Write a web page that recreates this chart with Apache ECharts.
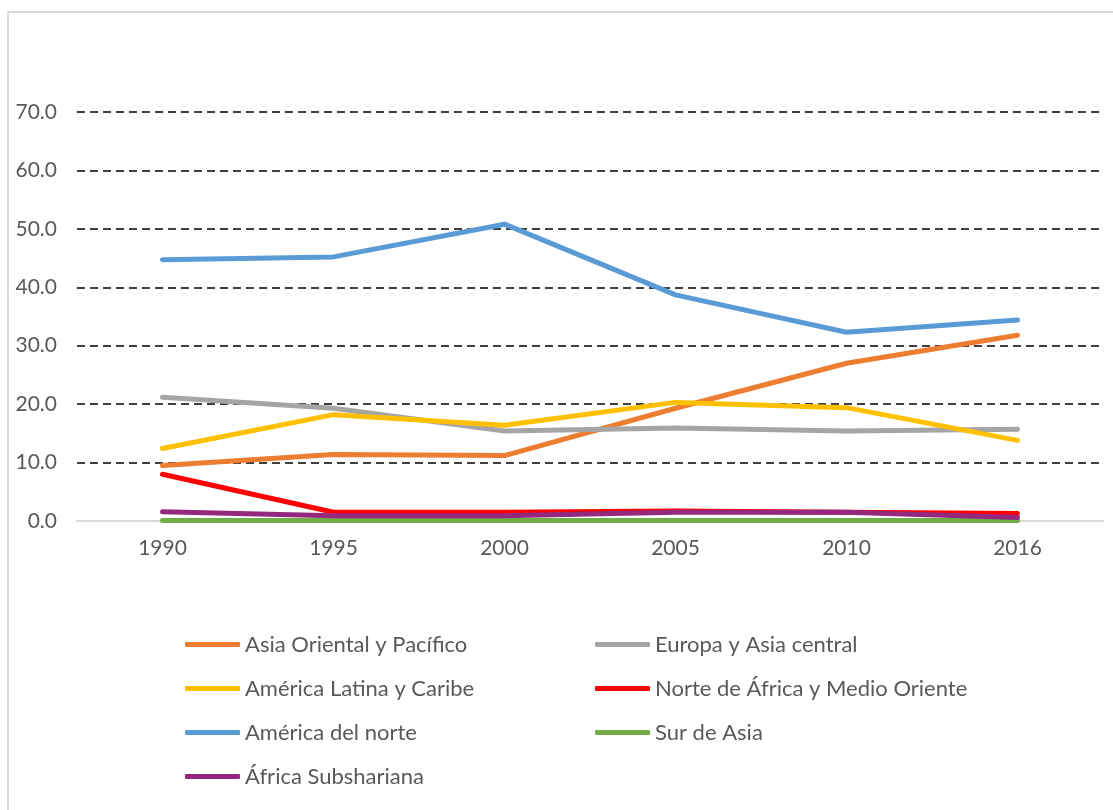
<!DOCTYPE html>
<html>
<head>
<meta charset="utf-8">
<title>Regiones 1990-2016</title>
<script src="https://cdn.jsdelivr.net/npm/echarts@6/dist/echarts.min.js"></script>
<style>
  html, body { margin: 0; padding: 0; background: #fff; }
  #chart { width: 1113px; height: 810px; }
</style>
</head>
<body>
<div id="chart"></div>
<script>
const years = ['1990', '1995', '2000', '2005', '2010', '2016']

const asiaOriental = [9.5, 11.4, 11.2, 19.3, 27.0, 31.8]
const europaAsiaCentral = [21.2, 19.3, 15.4, 15.9, 15.4, 15.7]
const americaLatina = [12.4, 18.2, 16.4, 20.3, 19.4, 13.8]
const norteAfrica = [8.0, 1.5, 1.5, 1.7, 1.5, 1.3]
const americaNorte = [44.7, 45.2, 50.8, 38.7, 32.3, 34.4]
const surAsia = [0.1, 0.1, 0.1, 0.1, 0.1, 0.1]
const africaSub = [1.6, 0.9, 0.9, 1.5, 1.5, 0.6]

const textColor = '#595959'
const fontFamily = 'Lato'

const chart = echarts.init(document.getElementById('chart'))

function line(name, data, color) {
  return {
    name: name,
    type: 'line',
    data: data,
    symbol: 'none',
    color: color,
    lineStyle: { width: 5, color: color, cap: 'round', join: 'round' },
    animation: false
  }
}

const legendCommon = {
  orient: 'vertical',
  top: 627,
  icon: 'roundRect',
  itemWidth: 55,
  itemHeight: 5,
  itemGap: 19,
  textStyle: {
    color: textColor,
    fontFamily: fontFamily,
    fontSize: 22,
    lineHeight: 25
  }
}

chart.setOption({
  backgroundColor: '#fff',
  graphic: [{
    type: 'rect',
    shape: { x: 8, y: 12, width: 1200, height: 900 },
    style: { fill: 'none', stroke: '#D9D9D9', lineWidth: 2 },
    silent: true
  }],
  grid: {
    left: 77,
    right: 10,
    top: 112,
    bottom: 289
  },
  legend: [
    Object.assign({}, legendCommon, {
      left: 180,
      data: ['Asia Oriental y Pacífico', 'América Latina y Caribe', 'América del norte', 'África Subshariana']
    }),
    Object.assign({}, legendCommon, {
      left: 590,
      data: ['Europa y Asia central', 'Norte de África y Medio Oriente', 'Sur de Asia']
    })
  ],
  xAxis: {
    type: 'category',
    data: years,
    boundaryGap: true,
    axisTick: { show: false },
    axisLine: { lineStyle: { color: '#D9D9D9', width: 2 } },
    axisLabel: {
      color: textColor,
      fontFamily: fontFamily,
      fontSize: 21,
      margin: 17
    }
  },
  yAxis: {
    type: 'value',
    min: 0,
    max: 70,
    interval: 10,
    axisLine: { show: false },
    axisTick: { show: false },
    axisLabel: {
      color: textColor,
      fontFamily: fontFamily,
      fontSize: 21,
      margin: 20,
      formatter: v => v.toFixed(1)
    },
    splitLine: {
      show: true,
      showMinLine: false,
      lineStyle: { color: '#000', width: 1.5, type: [8, 5] }
    }
  },
  series: [
    line('Asia Oriental y Pacífico', asiaOriental, '#ED7D31'),
    line('Europa y Asia central', europaAsiaCentral, '#A5A5A5'),
    line('América Latina y Caribe', americaLatina, '#FFC000'),
    line('Norte de África y Medio Oriente', norteAfrica, '#FF0000'),
    line('América del norte', americaNorte, '#5B9BD5'),
    line('Sur de Asia', surAsia, '#70AD47'),
    line('África Subshariana', africaSub, '#94287F')
  ]
})
</script>
</body>
</html>
